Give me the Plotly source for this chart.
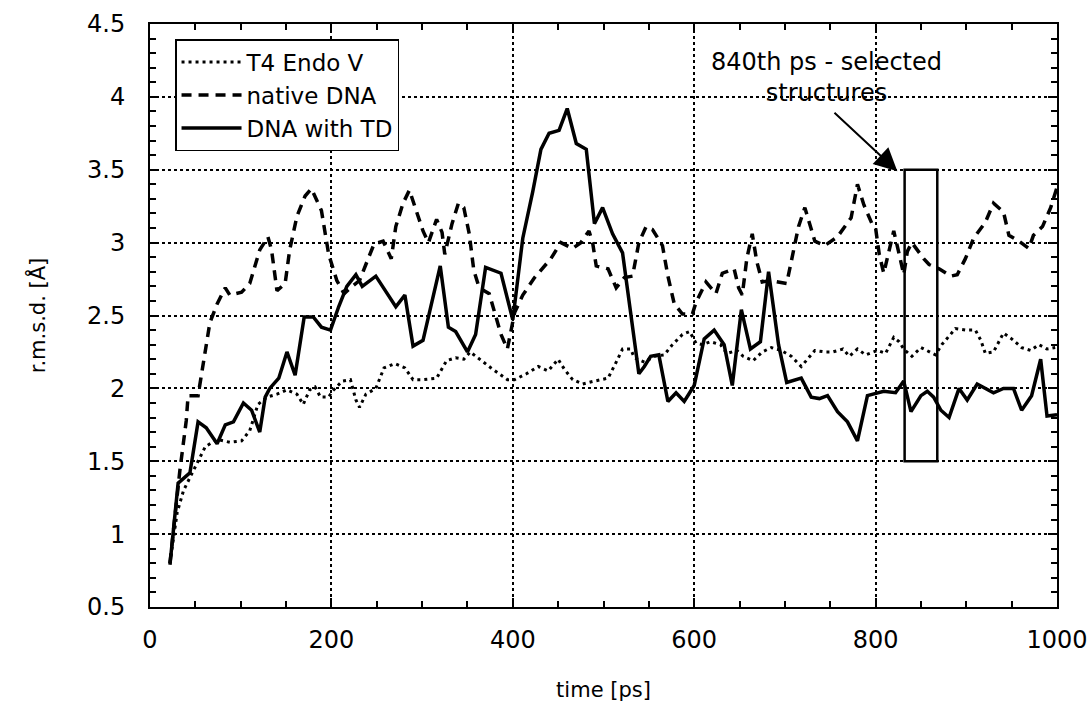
import plotly.graph_objects as go

# ---------------- data ----------------
t4_time = [22, 30, 37, 51, 61, 74, 88, 101, 110, 119, 129, 140, 151, 162, 169, 176, 182, 188, 197,
           201, 212, 221, 227, 231, 238, 249, 258, 270, 281, 290, 301, 316, 327, 337, 346, 353, 365,
           376, 385, 394, 402, 415, 428, 439, 450, 457, 466, 477, 490, 505, 514, 521, 530, 534, 545,
           556, 567, 576, 587, 595, 602, 609, 618, 629, 636, 647, 654, 665, 675, 685, 696, 707, 718,
           725, 733, 744, 753, 764, 771, 780, 789, 802, 811, 820, 826, 831, 840, 850, 859, 866, 873,
           881, 888, 899, 910, 916, 921, 930, 936, 941, 950, 961, 971, 980, 989, 998]
t4_rmsd = [0.80, 1.15, 1.30, 1.47, 1.60, 1.65, 1.63, 1.64, 1.71, 1.89, 1.94, 1.96, 1.99, 1.96, 1.89,
           1.99, 2.01, 1.94, 1.94, 1.98, 2.05, 2.06, 1.92, 1.87, 1.96, 2.00, 2.14, 2.17, 2.14, 2.06,
           2.06, 2.07, 2.19, 2.21, 2.20, 2.25, 2.19, 2.14, 2.10, 2.06, 2.06, 2.10, 2.15, 2.12, 2.20,
           2.13, 2.06, 2.03, 2.05, 2.07, 2.18, 2.27, 2.27, 2.21, 2.18, 2.22, 2.23, 2.30, 2.37, 2.39,
           2.31, 2.30, 2.32, 2.30, 2.24, 2.26, 2.22, 2.19, 2.25, 2.28, 2.26, 2.22, 2.15, 2.20, 2.26,
           2.25, 2.25, 2.27, 2.22, 2.27, 2.23, 2.26, 2.24, 2.35, 2.32, 2.27, 2.22, 2.28, 2.25, 2.23,
           2.30, 2.36, 2.41, 2.40, 2.40, 2.33, 2.24, 2.25, 2.32, 2.38, 2.34, 2.28, 2.26, 2.30, 2.27,
           2.28]

native_time = [22, 33, 40, 42, 53, 57, 61, 66, 74, 83, 88, 101, 110, 121, 130, 134, 140, 149, 154,
               162, 171, 178, 189, 197, 206, 214, 221, 231, 238, 247, 257, 266, 271, 279, 286, 294,
               301, 307, 316, 322, 325, 333, 340, 346, 352, 357, 363, 374, 381, 387, 394, 402, 411,
               424, 442, 453, 466, 475, 484, 488, 492, 505, 514, 523, 532, 539, 547, 554, 565, 571,
               578, 587, 598, 602, 613, 624, 631, 644, 649, 653, 658, 664, 669, 675, 684, 702, 707,
               715, 722, 727, 733, 744, 758, 773, 780, 787, 796, 800, 804, 809, 815, 820, 826, 831,
               835, 840, 853, 859, 870, 883, 890, 899, 908, 921, 930, 941, 947, 958, 969, 974, 984,
               993, 1000]
native_rmsd = [0.80, 1.44, 1.78, 1.95, 1.95, 2.10, 2.28, 2.45, 2.58, 2.69, 2.64, 2.66, 2.72, 2.95,
               3.04, 2.95, 2.67, 2.72, 2.95, 3.18, 3.32, 3.37, 3.22, 2.92, 2.74, 2.65, 2.69, 2.74,
               2.85, 2.99, 3.01, 2.89, 3.11, 3.27, 3.36, 3.20, 3.08, 3.00, 3.16, 3.07, 2.92, 3.13,
               3.27, 3.24, 3.06, 2.81, 2.69, 2.65, 2.49, 2.37, 2.27, 2.52, 2.64, 2.76, 2.89, 3.00,
               2.96, 3.00, 3.08, 3.00, 2.84, 2.82, 2.69, 2.76, 2.77, 3.00, 3.11, 3.09, 2.98, 2.77,
               2.58, 2.51, 2.51, 2.59, 2.73, 2.65, 2.79, 2.82, 2.69, 2.64, 2.89, 3.06, 2.87, 2.73,
               2.74, 2.72, 2.87, 3.11, 3.24, 3.14, 3.01, 2.98, 3.04, 3.17, 3.40, 3.26, 3.13, 3.10,
               2.92, 2.79, 2.96, 3.08, 2.92, 2.78, 2.94, 3.00, 2.89, 2.85, 2.82, 2.77, 2.78, 2.89,
               3.03, 3.14, 3.27, 3.21, 3.05, 3.01, 2.96, 3.05, 3.11, 3.24, 3.38]

td_time = [22, 31, 44, 53, 62, 74, 83, 92, 103, 112, 121, 127, 132, 142, 151, 160, 170, 180, 189,
           199, 208, 217, 227, 234, 249, 260, 271, 281, 290, 301, 320, 329, 337, 350, 359, 370, 387,
           400, 411, 422, 431, 440, 451, 460, 470, 481, 490, 499, 510, 521, 530, 539, 545, 552, 561,
           571, 580, 589, 600, 611, 622, 633, 642, 652, 662, 673, 682, 693, 702, 718, 729, 738, 747,
           758, 769, 780, 791, 809, 822, 831, 839, 850, 857, 864, 872, 881, 892, 901, 912, 930, 941,
           952, 961, 972, 982, 989, 1000]
td_rmsd = [0.79, 1.35, 1.42, 1.77, 1.73, 1.62, 1.75, 1.77, 1.90, 1.85, 1.70, 1.94, 2.00, 2.07, 2.25,
           2.09, 2.49, 2.49, 2.42, 2.40, 2.56, 2.70, 2.78, 2.70, 2.77, 2.66, 2.56, 2.64, 2.29, 2.33,
           2.84, 2.42, 2.39, 2.25, 2.37, 2.83, 2.79, 2.47, 3.03, 3.35, 3.64, 3.75, 3.77, 3.92, 3.68,
           3.64, 3.13, 3.24, 3.06, 2.93, 2.52, 2.10, 2.15, 2.22, 2.23, 1.91, 1.97, 1.91, 2.02, 2.34,
           2.40, 2.30, 2.02, 2.54, 2.27, 2.32, 2.80, 2.30, 2.04, 2.07, 1.94, 1.93, 1.95, 1.84, 1.77,
           1.64, 1.95, 1.98, 1.97, 2.05, 1.84, 1.95, 1.98, 1.94, 1.85, 1.80, 2.00, 1.92, 2.03, 1.97,
           2.00, 2.00, 1.85, 1.95, 2.20, 1.81, 1.82]

series_names = ["T4 Endo V", "native DNA", "DNA with TD"]
x_ticks = [0, 200, 400, 600, 800, 1000]
y_ticks = [0.5, 1, 1.5, 2, 2.5, 3, 3.5, 4, 4.5]

# selected-structure window and annotation
sel_t = [832, 868]
sel_rmsd = [1.5, 3.5]
note_text = "840th ps - selected<br>structures"

FONT = "DejaVu Sans"

fig = go.Figure()
fig.add_trace(go.Scatter(x=t4_time, y=t4_rmsd, mode="lines", name=series_names[0],
                         line=dict(color="black", width=3, dash="3px,4px")))
fig.add_trace(go.Scatter(x=native_time, y=native_rmsd, mode="lines", name=series_names[1],
                         line=dict(color="black", width=3.5, dash="10px,7px")))
fig.add_trace(go.Scatter(x=td_time, y=td_rmsd, mode="lines", name=series_names[2],
                         line=dict(color="black", width=3.5)))

fig.add_shape(type="rect", xref="x", yref="y", x0=sel_t[0], x1=sel_t[1],
              y0=sel_rmsd[0], y1=sel_rmsd[1], line=dict(color="black", width=2.5))

fig.add_annotation(x=824, y=3.49, ax=753, ay=3.90, xref="x", yref="y", axref="x", ayref="y",
                   text="", showarrow=True, arrowhead=2, arrowsize=2.3, arrowwidth=2,
                   arrowcolor="black")
fig.add_annotation(x=746, y=4.13, xref="x", yref="y", text=note_text, showarrow=False,
                   font=dict(family=FONT, size=24, color="black"), align="center",
                   bgcolor="rgba(0,0,0,0)")

axis_common = dict(
    showline=True, linecolor="black", linewidth=2, mirror="allticks",
    ticks="inside", ticklen=9, tickwidth=1.5, tickcolor="black",
    showgrid=True, gridcolor="black", gridwidth=1.5, griddash="dot",
    zeroline=False, tickfont=dict(family=FONT, size=24, color="black"),
)

fig.update_xaxes(range=[0, 1000], tickvals=x_ticks, ticklabelstandoff=10,
                 minor=dict(dtick=50, ticks="inside", ticklen=6, tickcolor="black", showgrid=False),
                 title=dict(text="time [ps]", font=dict(family=FONT, size=21, color="black"), standoff=30),
                 **axis_common)
fig.update_yaxes(range=[0.5, 4.5], tickvals=y_ticks, ticklabelstandoff=18,
                 minor=dict(dtick=0.1, ticks="inside", ticklen=6, tickcolor="black", showgrid=False),
                 title=dict(text="r.m.s.d. [Å]", font=dict(family=FONT, size=21, color="black"), standoff=36),
                 **axis_common)

fig.update_layout(
    width=1091, height=703,
    margin=dict(l=150, r=34, t=24, b=96, autoexpand=False),
    paper_bgcolor="white", plot_bgcolor="white",
    font=dict(family=FONT, color="black"),
    showlegend=True,
    legend=dict(x=0.0276, y=0.974, xanchor="left", yanchor="top",
                bgcolor="white", bordercolor="black", borderwidth=1.5,
                font=dict(family=FONT, size=23, color="black"),
                tracegroupgap=0, itemwidth=60),
)

fig.write_html("out.html", config={"displayModeBar": False},
               post_script="document.body.style.margin='0';")
